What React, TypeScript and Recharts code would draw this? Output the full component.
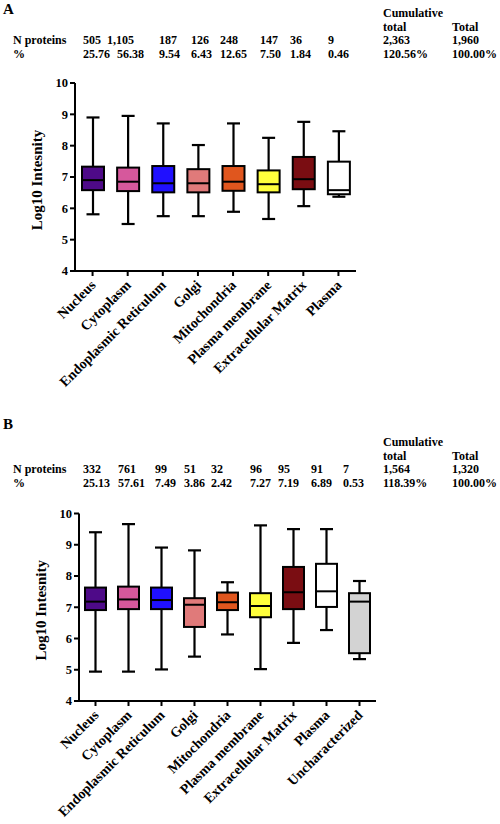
import * as React from 'react'
import { ComposedChart, Bar, XAxis, YAxis } from 'recharts'

const FONT = 'Liberation Serif, DejaVu Serif, Times New Roman, serif'

// panel A
const catsA = ['Nucleus', 'Cytoplasm', 'Endoplasmic Reticulum', 'Golgi', 'Mitochondria', 'Plasma membrane', 'Extracellular Matrix', 'Plasma']
const nA = ['505', '1,105', '187', '126', '248', '147', '36', '9']
const pctA = ['25.76', '56.38', '9.54', '6.43', '12.65', '7.50', '1.84', '0.46']
const cumA = ['2,363', '120.56%']
const totA = ['1,960', '100.00%']
const minA = [5.81, 5.5, 5.75, 5.75, 5.89, 5.66, 6.07, 6.37]
const q1A = [6.58, 6.55, 6.51, 6.51, 6.56, 6.51, 6.61, 6.45]
const medA = [6.9, 6.85, 6.8, 6.8, 6.85, 6.77, 6.93, 6.58]
const q3A = [7.33, 7.3, 7.35, 7.25, 7.35, 7.21, 7.64, 7.49]
const maxA = [8.9, 8.95, 8.71, 8.02, 8.71, 8.25, 8.76, 8.46]

// panel B
const catsB = ['Nucleus', 'Cytoplasm', 'Endoplasmic Reticulum', 'Golgi', 'Mitochondria', 'Plasma membrane', 'Extracellular Matrix', 'Plasma', 'Uncharacterized']
const nB = ['332', '761', '99', '51', '32', '96', '95', '91', '7']
const pctB = ['25.13', '57.61', '7.49', '3.86', '2.42', '7.27', '7.19', '6.89', '0.53']
const cumB = ['1,564', '118.39%']
const totB = ['1,320', '100.00%']
const minB = [4.94, 4.94, 5.01, 5.42, 6.13, 5.02, 5.86, 6.27, 5.34]
const q1B = [6.91, 6.94, 6.94, 6.37, 6.91, 6.68, 6.94, 7.01, 5.53]
const medB = [7.18, 7.25, 7.23, 7.08, 7.16, 7.04, 7.48, 7.51, 7.18]
const q3B = [7.63, 7.66, 7.63, 7.29, 7.47, 7.45, 8.29, 8.39, 7.45]
const maxB = [9.4, 9.66, 8.91, 8.82, 7.8, 9.62, 9.5, 9.5, 7.84]

const yTicks = [4, 5, 6, 7, 8, 9, 10]

const COLORS = ['#4e0a88', '#d6589c', '#2010ff', '#e07a7a', '#e0561e', '#ffff3c', '#7a0d12', '#ffffff', '#d3d3d3']

// column x positions of the table rows
const nColA = [83, 107, 159, 191, 220, 260, 290, 328]
const pColA = [83, 117, 159, 191, 220, 260, 290, 328]
const nColB = [83, 118, 155, 184, 211, 250, 278, 311, 343]
const pColB = [83, 118, 155, 184, 211, 250, 278, 311, 343]

function buildRows(cats: string[], mn: number[], q1: number[], md: number[], q3: number[], mx: number[]) {
  return cats.map((name, i) => ({
    name,
    range: [mn[i], mx[i]],
    min: mn[i],
    q1: q1[i],
    median: md[i],
    q3: q3[i],
    max: mx[i],
    color: COLORS[i],
  }))
}

function BoxShape(props: any) {
  const { x, y, width, height, payload } = props
  const top = Math.min(y, y + height)
  const bottom = Math.max(y, y + height)
  const { min, q1, median, q3, max, color } = payload
  const toY = (v: number) => bottom - ((bottom - top) * (v - min)) / (max - min)
  const cx = x + width / 2
  const cap = 6.5
  return (
    <g>
      <line x1={cx} x2={cx} y1={toY(max)} y2={toY(q3)} stroke="#000" strokeWidth={2.2} />
      <line x1={cx} x2={cx} y1={toY(q1)} y2={toY(min)} stroke="#000" strokeWidth={2.2} />
      <line x1={cx - cap} x2={cx + cap} y1={toY(max)} y2={toY(max)} stroke="#000" strokeWidth={2.2} />
      <line x1={cx - cap} x2={cx + cap} y1={toY(min)} y2={toY(min)} stroke="#000" strokeWidth={2.2} />
      <rect x={x} y={toY(q3)} width={width} height={toY(q1) - toY(q3)} fill={color} stroke="#000" strokeWidth={2} />
      <line x1={x} x2={x + width} y1={toY(median)} y2={toY(median)} stroke="#000" strokeWidth={2} />
    </g>
  )
}

function CatTick(props: any) {
  const { x, y, payload } = props
  const ax = x + 4
  const ay = y + 8
  return (
    <text
      x={ax}
      y={ay}
      transform={`rotate(-45, ${ax}, ${ay})`}
      textAnchor="end"
      fontFamily={FONT}
      fontWeight="bold"
      fontSize={14}
      fill="#000"
    >
      {payload.value}
    </text>
  )
}

function YLabel(props: any) {
  const vb = props.viewBox
  const lx = vb.x + 12
  const ly = vb.y + vb.height / 2 + 3
  return (
    <text
      x={lx}
      y={ly}
      transform={`rotate(-90, ${lx}, ${ly})`}
      textAnchor="middle"
      fontFamily={FONT}
      fontWeight="bold"
      fontSize={15}
      fill="#000"
    >
      Log10 Intesnity
    </text>
  )
}

function BoxChart({ rows, margin, height, barSize }: { rows: any[]; margin: any; height: number; barSize: number }) {
  return (
    <ComposedChart width={500} height={height} data={rows} margin={margin}>
      <XAxis
        dataKey="name"
        height={100}
        interval={0}
        axisLine={{ stroke: '#000', strokeWidth: 2 }}
        tickLine={{ stroke: '#000', strokeWidth: 2 }}
        tickSize={5}
        tick={<CatTick />}
      />
      <YAxis
        width={45}
        domain={[4, 10]}
        ticks={yTicks}
        interval={0}
        axisLine={{ stroke: '#000', strokeWidth: 2 }}
        tickLine={{ stroke: '#000', strokeWidth: 2 }}
        tickSize={5}
        tick={{ fill: '#000', fontSize: 12.5, fontWeight: 'bold', fontFamily: FONT }}
        label={{ content: <YLabel /> }}
      />
      <Bar dataKey="range" barSize={barSize} shape={<BoxShape />} isAnimationActive={false} />
    </ComposedChart>
  )
}

function TableText({ letter, letterY, y0, nCols, pCols, counts, pcts, cum, tot }: any) {
  const t = { fontFamily: FONT, fontWeight: 'bold' as const, fontSize: 12, fill: '#000' }
  return (
    <g>
      <text x={3} y={letterY} {...t} fontSize={15}>{letter}</text>
      <text x={383} y={y0} {...t}>Cumulative</text>
      <text x={383} y={y0 + 13.5} {...t}>total</text>
      <text x={452} y={y0 + 13.5} {...t}>Total</text>
      <text x={13} y={y0 + 27} {...t}>N proteins</text>
      <text x={13} y={y0 + 40.5} {...t}>%</text>
      {counts.map((c: string, i: number) => (
        <text key={'n' + i} x={nCols[i]} y={y0 + 27} {...t}>{c}</text>
      ))}
      {pcts.map((c: string, i: number) => (
        <text key={'p' + i} x={pCols[i]} y={y0 + 40.5} {...t}>{c}</text>
      ))}
      <text x={383} y={y0 + 27} {...t}>{cum[0]}</text>
      <text x={383} y={y0 + 40.5} {...t}>{cum[1]}</text>
      <text x={452} y={y0 + 27} {...t}>{tot[0]}</text>
      <text x={452} y={y0 + 40.5} {...t}>{tot[1]}</text>
    </g>
  )
}

export default function App() {
  const rowsA = buildRows(catsA, minA, q1A, medA, q3A, maxA)
  const rowsB = buildRows(catsB, minB, q1B, medB, q3B, maxB)
  return (
    <div style={{ position: 'absolute', left: 0, top: 0, width: 500, height: 824, background: '#fff', overflow: 'hidden' }}>
      <svg width={500} height={824} style={{ position: 'absolute', left: 0, top: 0 }}>
        <TableText letter="A" letterY={14} y0={17} nCols={nColA} pCols={pColA} counts={nA} pcts={pctA} cum={cumA} tot={totA} />
        <TableText letter="B" letterY={429} y0={446} nCols={nColB} pCols={pColB} counts={nB} pcts={pctB} cum={cumB} tot={totB} />
      </svg>
      <div style={{ position: 'absolute', left: 0, top: 0 }}>
        <BoxChart rows={rowsA} height={400} barSize={22} margin={{ top: 83, right: 144, bottom: 29, left: 30 }} />
      </div>
      <div style={{ position: 'absolute', left: 0, top: 400 }}>
        <BoxChart rows={rowsB} height={424} barSize={21} margin={{ top: 113.5, right: 124, bottom: 23, left: 34 }} />
      </div>
    </div>
  )
}
